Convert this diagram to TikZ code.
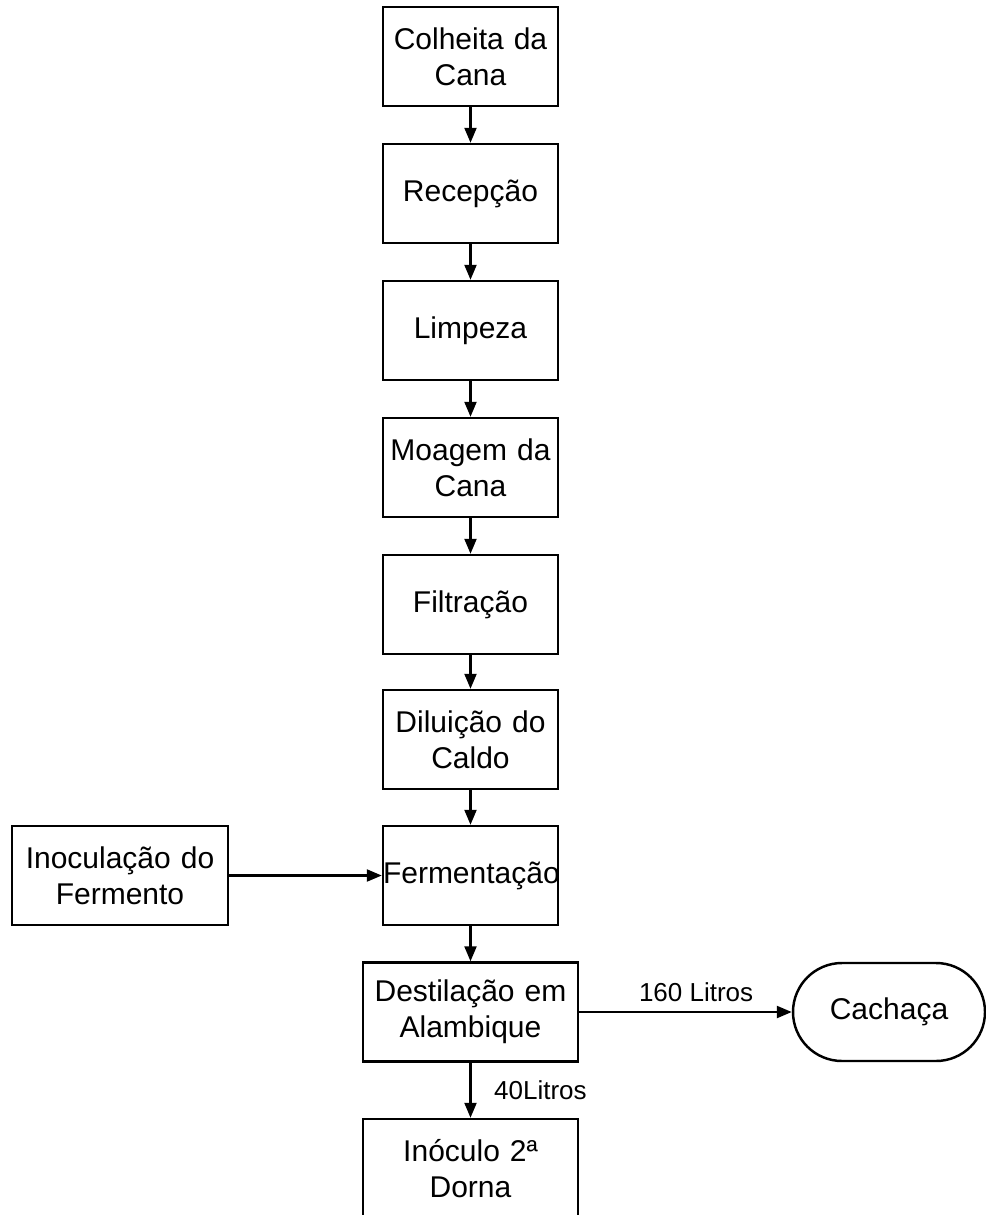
\documentclass[tikz,border=0pt]{standalone}
\usepackage{fontspec}
\setmainfont{Liberation Sans}
\usepackage{tikz}
\usetikzlibrary{arrows.meta}

\begin{document}
\begin{tikzpicture}[
        etapa/.style={draw, line width=1.4pt, inner sep=0pt, align=center,
            text width=3.5cm, minimum height=1.98cm,
            font=\fontsize{17.07pt}{20.5pt}\selectfont},
        larga/.style={etapa, text width=4.3cm},
        saida/.style={draw, line width=1.4pt, rounded corners=0.98cm,
            minimum width=3.84cm, minimum height=1.96cm,
            font=\fontsize{17.07pt}{20.5pt}\selectfont},
        rotulo/.style={font=\fontsize{14.8pt}{17pt}\selectfont},
        fluxo/.style={line width=1.3pt, -{Triangle[length=0.3cm, width=0.24cm]}}
    ]
                \useasboundingbox (0, 0) rectangle (19.72, -24.3);

                \node[etapa] (s1) at (9.41, -1.13) {Colheita da\\Cana};
                \node[etapa] (s2) at (9.41, -3.87) {Recepção};
                \node[etapa] (s3) at (9.41, -6.61) {Limpeza};
                \node[etapa] (s4) at (9.41, -9.35) {Moagem da\\Cana};
                \node[etapa] (s5) at (9.41, -12.09) {Filtração};
                \node[etapa] (s6) at (9.41, -14.79) {Diluição do\\Caldo};
                \node[etapa] (s7) at (9.41, -17.51) {Fermentação};
                \node[larga] (s8) at (9.41, -20.24) {Destilação em\\Alambique};
                \node[larga] (s9) at (9.41, -23.37) {Inóculo 2ª\\Dorna};

                \node[etapa, text width=4.32cm] (f1) at (2.40, -17.51) {Inoculação do\\Fermento};
                \node[saida] (c1) at (17.78, -20.24) {Cachaça};

                \draw[fluxo] (s1) -- (s2);
                \draw[fluxo] (s2) -- (s3);
                \draw[fluxo] (s3) -- (s4);
                \draw[fluxo] (s4) -- (s5);
                \draw[fluxo] (s5) -- (s6);
                \draw[fluxo] (s6) -- (s7);
                \draw[fluxo] (s7) -- (s8);
                \draw[fluxo] (f1) -- (s7);
                \draw[fluxo] (s8) -- node[rotulo, above, pos=0.55, inner sep=0.18cm] {160 Litros} (c1);
                \draw[fluxo] (s8) -- node[rotulo, right, inner sep=0.45cm] {40Litros} (s9);

\end{tikzpicture}
\end{document}
